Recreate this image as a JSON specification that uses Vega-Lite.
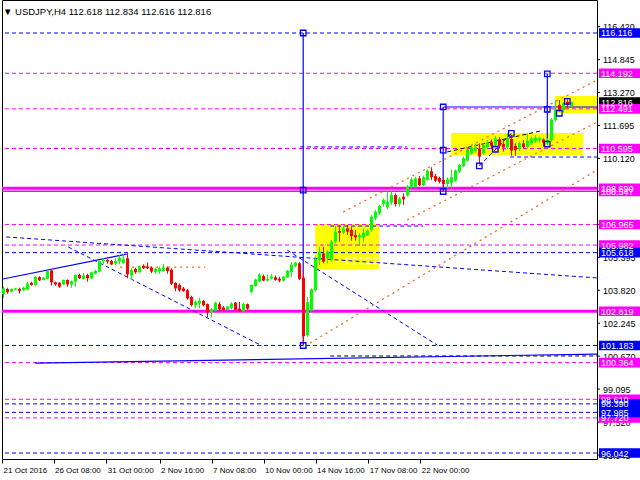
{
"$schema":"https://vega.github.io/schema/vega-lite/v6.json",
"width":595,"height":459,"autosize":"none",
"padding":{"left":2,"top":0,"right":43,"bottom":21},
"background":"white",
"title":{"text":"▼ USDJPY,H4  112.618 112.834 112.616 112.816","anchor":"start","frame":"group","orient":"top","offset":-24,"baseline":"alphabetic","dx":1,"font":"Liberation Sans","fontSize":9.5,"fontWeight":"normal","color":"black"},
"config":{"view":{"stroke":"black","strokeWidth":1},"font":"Liberation Sans",
 "axisX":{"grid":false,"domain":false,"tickColor":"black","tickSize":4,"labelAlign":"left","labelBaseline":"top","labelPadding":3,"labelOffset":1,"labelFont":"Liberation Sans","labelFontSize":8,"labelColor":"black","labelFlush":false,"labelOverlap":false,"labelBound":false,"title":null},
 "axisY":{"grid":false,"domain":false,"ticks":false,"labels":false,"title":null}},
"datasets":{
"candles":[
{"i":1,"o":103.63,"h":103.99,"l":103.46,"c":103.91},
{"i":2,"o":103.88,"h":103.94,"l":103.66,"c":103.72},
{"i":3,"o":103.75,"h":103.91,"l":103.72,"c":103.88},
{"i":4,"o":103.85,"h":103.94,"l":103.82,"c":103.91},
{"i":5,"o":103.88,"h":103.94,"l":103.66,"c":103.79},
{"i":6,"o":103.82,"h":103.99,"l":103.79,"c":103.94},
{"i":7,"o":103.85,"h":104.23,"l":103.82,"c":104.15},
{"i":8,"o":104.18,"h":104.23,"l":104.04,"c":104.07},
{"i":9,"o":104.07,"h":104.49,"l":104.04,"c":104.45},
{"i":10,"o":104.45,"h":104.49,"l":104.26,"c":104.29},
{"i":11,"o":104.31,"h":104.45,"l":104.29,"c":104.42},
{"i":12,"o":104.36,"h":104.77,"l":104.34,"c":104.74},
{"i":13,"o":104.77,"h":104.84,"l":104.04,"c":104.2},
{"i":14,"o":104.2,"h":104.23,"l":104.04,"c":104.1},
{"i":15,"o":104.18,"h":104.21,"l":103.94,"c":103.99},
{"i":16,"o":104.1,"h":104.34,"l":104.07,"c":104.31},
{"i":17,"o":104.31,"h":104.34,"l":103.99,"c":104.1},
{"i":18,"o":104.1,"h":104.29,"l":103.94,"c":104.26},
{"i":19,"o":104.23,"h":104.58,"l":103.99,"c":104.55},
{"i":20,"o":104.55,"h":104.61,"l":104.36,"c":104.39},
{"i":21,"o":104.36,"h":104.64,"l":104.33,"c":104.52},
{"i":22,"o":104.55,"h":104.61,"l":104.23,"c":104.39},
{"i":23,"o":104.39,"h":104.71,"l":104.36,"c":104.68},
{"i":24,"o":104.61,"h":104.8,"l":104.58,"c":104.74},
{"i":25,"o":104.71,"h":105.25,"l":104.68,"c":105.22},
{"i":26,"o":105.22,"h":105.35,"l":105.06,"c":105.28},
{"i":27,"o":105.27,"h":105.31,"l":105.09,"c":105.19},
{"i":28,"o":105.22,"h":105.28,"l":105.03,"c":105.06},
{"i":29,"o":105.09,"h":105.35,"l":105.03,"c":105.22},
{"i":30,"o":105.19,"h":105.5,"l":105.06,"c":105.38},
{"i":31,"o":105.12,"h":105.54,"l":105.09,"c":105.31},
{"i":32,"o":105.35,"h":105.62,"l":104.39,"c":104.58},
{"i":33,"o":104.52,"h":104.87,"l":104.31,"c":104.79},
{"i":34,"o":104.84,"h":104.9,"l":104.61,"c":104.68},
{"i":35,"o":104.68,"h":105.0,"l":104.65,"c":104.96},
{"i":36,"o":104.99,"h":105.06,"l":104.84,"c":104.87},
{"i":37,"o":104.96,"h":105.15,"l":104.84,"c":104.87},
{"i":38,"o":104.9,"h":104.96,"l":104.64,"c":104.71},
{"i":39,"o":104.68,"h":104.9,"l":104.61,"c":104.84},
{"i":40,"o":104.74,"h":104.96,"l":104.61,"c":104.87},
{"i":41,"o":104.74,"h":105.09,"l":104.71,"c":104.9},
{"i":42,"o":104.9,"h":104.96,"l":104.61,"c":104.74},
{"i":43,"o":104.8,"h":104.87,"l":104.07,"c":104.13},
{"i":44,"o":104.17,"h":104.2,"l":103.78,"c":103.91},
{"i":45,"o":104.07,"h":104.14,"l":103.75,"c":103.82},
{"i":46,"o":103.91,"h":103.98,"l":103.75,"c":103.78},
{"i":47,"o":103.82,"h":103.88,"l":103.37,"c":103.43},
{"i":48,"o":103.5,"h":103.56,"l":103.05,"c":103.11},
{"i":49,"o":103.11,"h":103.34,"l":102.96,"c":103.27},
{"i":50,"o":103.18,"h":103.46,"l":102.96,"c":103.31},
{"i":51,"o":103.31,"h":103.37,"l":103.05,"c":103.11},
{"i":52,"o":103.16,"h":103.19,"l":102.53,"c":102.75},
{"i":53,"o":102.75,"h":102.97,"l":102.53,"c":102.91},
{"i":54,"o":102.85,"h":103.27,"l":102.81,"c":103.23},
{"i":55,"o":103.16,"h":103.26,"l":102.81,"c":102.91},
{"i":56,"o":103.0,"h":103.07,"l":102.81,"c":102.88},
{"i":57,"o":102.88,"h":103.07,"l":102.85,"c":103.04},
{"i":58,"o":102.97,"h":103.26,"l":102.91,"c":103.19},
{"i":59,"o":103.23,"h":103.26,"l":102.85,"c":102.88},
{"i":60,"o":102.94,"h":103.26,"l":102.78,"c":102.81},
{"i":61,"o":102.81,"h":103.23,"l":102.78,"c":103.16},
{"i":62,"o":103.16,"h":103.19,"l":102.88,"c":102.94},
{"i":63,"o":103.75,"h":104.1,"l":103.67,"c":104.07},
{"i":64,"o":104.02,"h":104.37,"l":103.99,"c":104.34},
{"i":65,"o":104.25,"h":104.63,"l":104.21,"c":104.57},
{"i":66,"o":104.5,"h":104.57,"l":104.25,"c":104.28},
{"i":67,"o":104.28,"h":104.57,"l":104.25,"c":104.37},
{"i":68,"o":104.37,"h":104.6,"l":104.34,"c":104.47},
{"i":69,"o":104.44,"h":104.53,"l":104.28,"c":104.31},
{"i":70,"o":104.37,"h":104.47,"l":104.21,"c":104.28},
{"i":71,"o":104.28,"h":104.5,"l":104.25,"c":104.47},
{"i":72,"o":104.44,"h":104.79,"l":104.41,"c":104.76},
{"i":73,"o":104.69,"h":105.17,"l":104.47,"c":105.04},
{"i":74,"o":104.98,"h":105.17,"l":104.92,"c":105.14},
{"i":75,"o":105.11,"h":105.17,"l":104.31,"c":104.37},
{"i":76,"o":104.42,"h":104.65,"l":101.18,"c":101.62},
{"i":77,"o":101.68,"h":103.5,"l":101.6,"c":103.25},
{"i":78,"o":102.85,"h":103.91,"l":102.8,"c":103.87},
{"i":79,"o":103.83,"h":105.43,"l":103.75,"c":105.33},
{"i":80,"o":105.27,"h":105.9,"l":105.03,"c":105.66},
{"i":81,"o":105.58,"h":105.9,"l":105.11,"c":105.19},
{"i":82,"o":105.35,"h":105.74,"l":105.1,"c":105.66},
{"i":83,"o":105.27,"h":106.22,"l":105.19,"c":106.14},
{"i":84,"o":106.14,"h":106.89,"l":106.06,"c":106.62},
{"i":85,"o":106.65,"h":106.94,"l":106.14,"c":106.57},
{"i":86,"o":106.57,"h":106.89,"l":106.51,"c":106.78},
{"i":87,"o":106.78,"h":106.94,"l":106.46,"c":106.62},
{"i":88,"o":106.7,"h":106.86,"l":106.19,"c":106.41},
{"i":89,"o":106.46,"h":106.7,"l":106.19,"c":106.35},
{"i":90,"o":106.35,"h":106.54,"l":105.94,"c":106.46},
{"i":91,"o":106.35,"h":106.78,"l":106.14,"c":106.57},
{"i":92,"o":106.46,"h":106.73,"l":106.41,"c":106.67},
{"i":93,"o":106.7,"h":107.42,"l":106.62,"c":107.34},
{"i":94,"o":107.26,"h":107.66,"l":107.18,"c":107.58},
{"i":95,"o":107.5,"h":107.9,"l":107.42,"c":107.85},
{"i":96,"o":107.94,"h":108.21,"l":107.82,"c":108.13},
{"i":97,"o":107.78,"h":108.53,"l":107.69,"c":108.05},
{"i":98,"o":108.01,"h":108.53,"l":107.9,"c":108.37},
{"i":99,"o":108.37,"h":108.45,"l":107.82,"c":107.94},
{"i":100,"o":107.94,"h":108.29,"l":107.82,"c":108.21},
{"i":101,"o":108.29,"h":108.45,"l":107.9,"c":108.17},
{"i":102,"o":108.35,"h":108.85,"l":108.3,"c":108.78},
{"i":103,"o":108.74,"h":109.22,"l":108.68,"c":109.12},
{"i":104,"o":108.77,"h":109.25,"l":108.72,"c":109.17},
{"i":105,"o":109.17,"h":109.28,"l":108.8,"c":108.85},
{"i":106,"o":108.85,"h":109.3,"l":108.8,"c":109.22},
{"i":107,"o":109.09,"h":109.6,"l":109.06,"c":109.54},
{"i":108,"o":109.51,"h":109.7,"l":109.09,"c":109.22},
{"i":109,"o":109.28,"h":109.38,"l":108.99,"c":109.06},
{"i":110,"o":109.19,"h":109.25,"l":108.93,"c":109.01},
{"i":111,"o":109.09,"h":109.15,"l":108.55,"c":108.9},
{"i":112,"o":108.9,"h":109.22,"l":108.69,"c":109.12},
{"i":113,"o":108.96,"h":109.57,"l":108.69,"c":109.22},
{"i":114,"o":109.06,"h":109.6,"l":108.99,"c":109.54},
{"i":115,"o":109.49,"h":109.86,"l":109.41,"c":109.81},
{"i":116,"o":109.76,"h":110.21,"l":109.7,"c":110.13},
{"i":117,"o":110.01,"h":110.6,"l":109.97,"c":110.56},
{"i":118,"o":110.36,"h":110.76,"l":110.29,"c":110.65},
{"i":119,"o":110.49,"h":110.84,"l":110.4,"c":110.65},
{"i":120,"o":110.6,"h":110.84,"l":109.83,"c":110.21},
{"i":121,"o":110.36,"h":110.84,"l":110.29,"c":110.76},
{"i":122,"o":110.65,"h":111.0,"l":110.56,"c":110.87},
{"i":123,"o":110.92,"h":111.03,"l":110.6,"c":110.72},
{"i":124,"o":110.76,"h":111.19,"l":110.68,"c":111.08},
{"i":125,"o":111.03,"h":111.13,"l":110.6,"c":110.72},
{"i":126,"o":110.81,"h":111.0,"l":110.45,"c":110.65},
{"i":127,"o":110.65,"h":111.32,"l":110.56,"c":111.08},
{"i":128,"o":111.05,"h":111.25,"l":110.25,"c":110.5},
{"i":129,"o":110.72,"h":110.84,"l":110.24,"c":110.52},
{"i":130,"o":110.56,"h":110.92,"l":110.49,"c":110.85},
{"i":131,"o":110.84,"h":111.0,"l":110.6,"c":110.66},
{"i":132,"o":110.68,"h":111.32,"l":110.6,"c":110.97},
{"i":133,"o":110.84,"h":111.16,"l":110.76,"c":111.08},
{"i":134,"o":110.92,"h":111.24,"l":110.87,"c":111.11},
{"i":135,"o":111.0,"h":111.16,"l":110.87,"c":111.1},
{"i":136,"o":111.03,"h":111.08,"l":110.68,"c":110.87},
{"i":137,"o":110.84,"h":111.08,"l":110.76,"c":111.0},
{"i":138,"o":111.0,"h":112.04,"l":110.92,"c":111.99},
{"i":139,"o":111.96,"h":112.91,"l":111.88,"c":112.47},
{"i":140,"o":112.68,"h":112.91,"l":112.36,"c":112.44},
{"i":141,"o":112.44,"h":112.8,"l":112.31,"c":112.76},
{"i":142,"o":112.83,"h":112.95,"l":112.52,"c":112.66},
{"i":143,"o":112.618,"h":112.834,"l":112.616,"c":112.816}
],
"yticks":[{"v":116.42},{"v":114.845},{"v":113.27},{"v":111.695},{"v":110.12},{"v":108.545},{"v":106.97},{"v":105.395},{"v":103.82},{"v":102.245},{"v":100.67},{"v":99.095},{"v":97.52},{"v":95.945}],
"rects":[
{"i":78.925,"p":106.99,"i2":94.925,"p2":104.84},
{"i":112.925,"p":111.34,"i2":145.925,"p2":110.29},
{"i":138.925,"p":113.11,"i2":149.375,"p2":112.29}
],
"levels":[
{"p":116.116,"k":"bd"},{"p":105.618,"k":"bd"},{"p":101.183,"k":"bd"},{"p":98.39,"k":"bd"},{"p":97.985,"k":"bd"},{"p":96.042,"k":"bd"},
{"p":114.192,"k":"md"},{"p":112.491,"k":"md"},{"p":110.595,"k":"md"},{"p":106.965,"k":"md"},{"p":105.982,"k":"md"},{"p":100.364,"k":"md"},{"p":98.61,"k":"md"},{"p":97.72,"k":"md"},
{"p":102.819,"k":"mt"},{"p":108.69,"k":"mt"},
{"p":108.547,"k":"ms"}
],
"segs":[
{"i":85.925,"p":107.56,"i2":149.375,"p2":113.87,"k":"or"},
{"i":101.925,"p":107.18,"i2":149.375,"p2":111.86,"k":"or"},
{"i":77.675,"p":101.3,"i2":149.375,"p2":109.57,"k":"or"},
{"i":30.175,"p":104.93,"i2":51.425,"p2":104.93,"k":"or"},
{"i":1.675,"p":106.37,"i2":149.375,"p2":104.41,"k":"bd"},
{"i":17.175,"p":105.89,"i2":65.675,"p2":101.16,"k":"bd"},
{"i":71.925,"p":105.74,"i2":109.425,"p2":101.2,"k":"bd"},
{"i":75.175,"p":110.67,"i2":101.925,"p2":110.67,"k":"bd"},
{"i":82.675,"p":106.89,"i2":105.925,"p2":106.89,"k":"bd"},
{"i":127.675,"p":110.19,"i2":149.375,"p2":110.19,"k":"bd"},
{"i":119.95,"p":109.76,"i2":127.95,"p2":111.32,"k":"bd"},
{"i":0.85,"p":104.36,"i2":31.75,"p2":105.55,"k":"bs"},
{"i":8.925,"p":100.34,"i2":149.375,"p2":100.77,"k":"bs"},
{"i":110.925,"p":112.58,"i2":149.375,"p2":112.58,"k":"bs"},
{"i":75.925,"p":116.116,"i2":75.925,"p2":101.18,"k":"bs"},
{"i":110.925,"p":112.58,"i2":110.925,"p2":108.54,"k":"bs"},
{"i":136.95,"p":114.16,"i2":136.95,"p2":110.81,"k":"bs"},
{"i":82.675,"p":100.68,"i2":149.375,"p2":100.68,"k":"kd"},
{"i":111.925,"p":110.43,"i2":135.175,"p2":111.43,"k":"kd"},
{"i":86.425,"p":105.36,"i2":94.675,"p2":105.36,"k":"wd"},
{"i":86.425,"p":105.1,"i2":94.675,"p2":105.1,"k":"wd"}
],
"marks":[
{"i":75.925,"p":116.116},{"i":75.925,"p":108.61},{"i":75.925,"p":101.18},
{"i":110.925,"p":112.58},{"i":110.925,"p":110.52},{"i":110.925,"p":108.54},
{"i":119.95,"p":109.76},{"i":123.95,"p":110.56},{"i":127.95,"p":111.32},
{"i":136.95,"p":114.16},{"i":136.95,"p":112.47},{"i":136.95,"p":110.81},
{"i":139.95,"p":112.28},{"i":141.95,"p":112.85}
],
"boxes":[
{"p":112.816,"k":"black"},
{"p":108.69,"k":"mag"},{"p":114.192,"k":"mag"},{"p":112.491,"k":"mag"},{"p":110.595,"k":"mag"},{"p":108.547,"k":"mag"},{"p":106.965,"k":"mag"},{"p":105.982,"k":"mag"},{"p":102.819,"k":"mag"},{"p":100.364,"k":"mag"},{"p":98.61,"k":"mag"},{"p":97.72,"k":"mag"},
{"p":116.116,"k":"blue"},{"p":105.618,"k":"blue"},{"p":101.183,"k":"blue"},{"p":98.39,"k":"blue"},{"p":97.985,"k":"blue"},{"p":96.042,"k":"blue"}
]
},
"layer":[
{"data":{"name":"candles"},"mark":{"type":"rule","strokeWidth":1},
 "encoding":{
  "x":{"field":"i","type":"quantitative","title":null,"scale":{"domain":[0.625,149.375],"nice":false,"zero":false},
   "axis":{"title":null,"labelOverlap":false,"labelFlush":false,"values":[0.65,13.5,26.7,40,53,66,79,92.2,105.2],
    "labelExpr":"['21 Oct 2016','26 Oct 08:00','31 Oct 00:00','2 Nov 16:00','7 Nov 08:00','10 Nov 00:00','14 Nov 16:00','17 Nov 08:00','22 Nov 00:00'][indexof([0.65,13.5,26.7,40,53,66,79,92.2,105.2], datum.value)]"}},
  "y":{"field":"l","type":"quantitative","title":null,"scale":{"domain":[95.756,117.693],"nice":false,"zero":false}},
  "y2":{"field":"h"},
  "opacity":{"value":0}}},
{"data":{"name":"rects"},"mark":{"type":"rect","color":"#ffff00"},
 "encoding":{"x":{"field":"i","type":"quantitative","title":null},"x2":{"field":"i2"},
  "y":{"field":"p","type":"quantitative","title":null},"y2":{"field":"p2"}}},
{"data":{"name":"levels"},"transform":[{"filter":"datum.k=='bd'"}],"mark":{"type":"rule","color":"#0000ff","strokeDash":[4,3],"strokeWidth":1},
 "encoding":{"y":{"field":"p","type":"quantitative","title":null}}},
{"data":{"name":"levels"},"transform":[{"filter":"datum.k=='md'"}],"mark":{"type":"rule","color":"#ff00ff","strokeDash":[4,3],"strokeWidth":1},
 "encoding":{"y":{"field":"p","type":"quantitative","title":null}}},
{"data":{"name":"levels"},"transform":[{"filter":"datum.k=='mt'"}],"mark":{"type":"rule","color":"#ff00ff","strokeWidth":3},
 "encoding":{"y":{"field":"p","type":"quantitative","title":null}}},
{"data":{"name":"levels"},"transform":[{"filter":"datum.k=='ms'"}],"mark":{"type":"rule","color":"#ff00ff","strokeWidth":1.5},
 "encoding":{"y":{"field":"p","type":"quantitative","title":null}}},
{"data":{"name":"segs"},"transform":[{"filter":"datum.k=='or'"}],"mark":{"type":"rule","color":"#ff5a00","strokeDash":[2,4],"strokeWidth":1.2},
 "encoding":{"x":{"field":"i","type":"quantitative","title":null},"x2":{"field":"i2"},"y":{"field":"p","type":"quantitative","title":null},"y2":{"field":"p2"}}},
{"data":{"name":"segs"},"transform":[{"filter":"datum.k=='bd'"}],"mark":{"type":"rule","color":"#0000ff","strokeDash":[4,3],"strokeWidth":1},
 "encoding":{"x":{"field":"i","type":"quantitative","title":null},"x2":{"field":"i2"},"y":{"field":"p","type":"quantitative","title":null},"y2":{"field":"p2"}}},
{"data":{"name":"segs"},"transform":[{"filter":"datum.k=='kd'"}],"mark":{"type":"rule","color":"#000000","strokeDash":[4,3],"strokeWidth":1},
 "encoding":{"x":{"field":"i","type":"quantitative","title":null},"x2":{"field":"i2"},"y":{"field":"p","type":"quantitative","title":null},"y2":{"field":"p2"}}},
{"data":{"name":"segs"},"transform":[{"filter":"datum.k=='wd'"}],"mark":{"type":"rule","color":"#ffffff","strokeDash":[4,3],"strokeWidth":1.5},
 "encoding":{"x":{"field":"i","type":"quantitative","title":null},"x2":{"field":"i2"},"y":{"field":"p","type":"quantitative","title":null},"y2":{"field":"p2"}}},
{"data":{"name":"segs"},"transform":[{"filter":"datum.k=='bs'"}],"mark":{"type":"rule","color":"#0000ff","strokeWidth":1.2},
 "encoding":{"x":{"field":"i","type":"quantitative","title":null},"x2":{"field":"i2"},"y":{"field":"p","type":"quantitative","title":null},"y2":{"field":"p2"}}},
{"data":{"name":"candles"},"mark":{"type":"rule","strokeWidth":1},
 "encoding":{"x":{"field":"i","type":"quantitative","title":null},"y":{"field":"l","type":"quantitative","title":null},"y2":{"field":"h"},
  "color":{"condition":{"test":"datum.c >= datum.o","value":"#00ff00"},"value":"#ff0000"}}},
{"data":{"name":"candles"},"mark":{"type":"rule","strokeWidth":3},
 "encoding":{"x":{"field":"i","type":"quantitative","title":null},"y":{"field":"o","type":"quantitative","title":null},"y2":{"field":"c"},
  "color":{"condition":{"test":"datum.c >= datum.o","value":"#00ff00"},"value":"#ff0000"}}},
{"data":{"name":"marks"},"mark":{"type":"point","shape":"square","filled":false,"size":30,"strokeWidth":1.3,"color":"#0000ff","opacity":1},
 "encoding":{"x":{"field":"i","type":"quantitative","title":null},"y":{"field":"p","type":"quantitative","title":null}}},
{"data":{"name":"yticks"},"mark":{"type":"rule","color":"black","strokeWidth":1},
 "encoding":{"x":{"datum":149.375,"type":"quantitative","title":null},"x2":{"datum":150.125},"y":{"field":"v","type":"quantitative","title":null}}},
{"data":{"name":"yticks"},"mark":{"type":"text","align":"left","baseline":"middle","font":"Liberation Sans","fontSize":9,"color":"black","dy":0.5},
 "encoding":{"x":{"datum":150.875,"type":"quantitative","title":null},"y":{"field":"v","type":"quantitative","title":null},
  "text":{"field":"v","type":"quantitative","format":".3f"}}},
{"data":{"name":"boxes"},"mark":{"type":"point","shape":"M0,-0.48H4.3V0.48H0Z","filled":true,"size":400,"strokeWidth":0,"opacity":1},
 "encoding":{"x":{"datum":149.875,"type":"quantitative","title":null},"y":{"field":"p","type":"quantitative","title":null},
  "color":{"field":"k","type":"nominal","scale":{"domain":["black","mag","blue"],"range":["#000000","#ff00ff","#0000ff"]},"legend":null}}},
{"data":{"name":"boxes"},"mark":{"type":"text","align":"left","baseline":"middle","font":"Liberation Sans","fontSize":9,"color":"#ffffff","dy":0.5},
 "encoding":{"x":{"datum":150.375,"type":"quantitative","title":null},"y":{"field":"p","type":"quantitative","title":null},
  "text":{"field":"p","type":"quantitative","format":".3f"}}}
]
}
